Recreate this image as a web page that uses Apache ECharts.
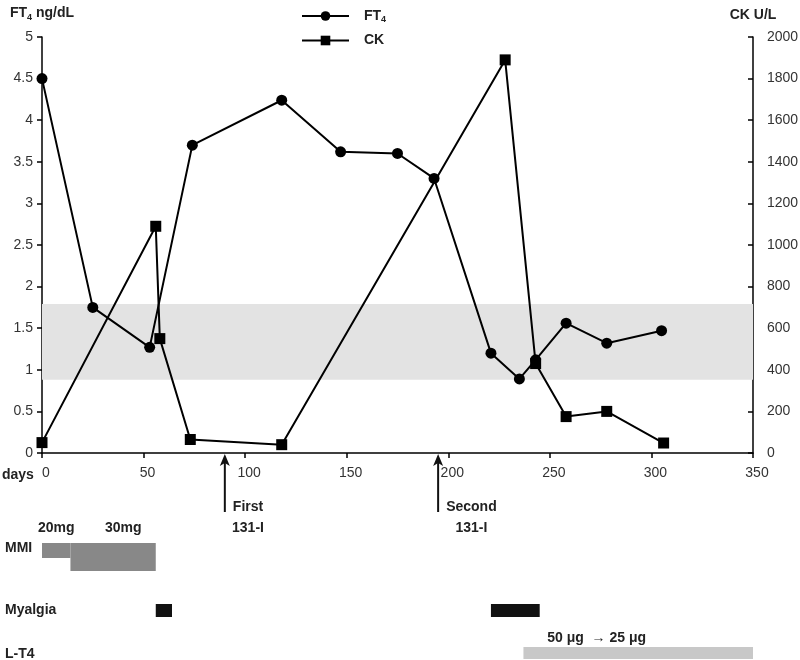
<!DOCTYPE html>
<html>
<head>
<meta charset="utf-8">
<script src="https://cdn.jsdelivr.net/npm/echarts@6/dist/echarts.min.js"></script>
<style>
  html, body { margin: 0; padding: 0; background: #fff; }
  #chart { width: 800px; height: 660px; }
</style>
</head>
<body>
<div id="chart"></div>
<script>
// FT4 (ng/dL) by day
const ft4Days = [0, 25, 53, 74, 118, 147, 175, 193, 221, 235, 243, 258, 278, 305];
const ft4Values = [4.5, 1.75, 1.27, 3.7, 4.24, 3.62, 3.6, 3.3, 1.2, 0.89, 1.12, 1.56, 1.32, 1.47];

// CK (U/L) by day
const ckDays = [0, 56, 58, 73, 118, 228, 243, 258, 278, 306];
const ckValues = [50, 1090, 550, 65, 40, 1890, 430, 175, 200, 48];

// FT4 reference range (grey band)
const ft4Range = [0.88, 1.79];

// treatment / symptom timeline: [start day, end day]
const mmiSegments = [[0, 14], [14, 56]];
const mmiLabels = [["20mg", 7], ["30mg", 40]];
const myalgiaSpans = [[56, 64], [221, 245]];
const lt4Spans = [[237, 350]];
const lt4Label = ["50 μg  → 25 μg", 273];
const iodineDoses = [[90, "First"], [195, "Second"]];

const xTicks = { min: 0, max: 350, interval: 50 };
const leftTicks = { min: 0, max: 5, interval: 0.5 };
const rightTicks = { min: 0, max: 2000, interval: 200 };

const FONT = "'Liberation Sans', Arial, sans-serif";
const measureCtx = document.createElement("canvas").getContext("2d");
function textWidth(text, font) {
  measureCtx.font = font;
  return measureCtx.measureText(text).width;
}

const chart = echarts.init(document.getElementById("chart"), null, { renderer: "canvas" });

const axisLine = { lineStyle: { color: "#000", width: 1.5 } };
const tickLabel = { color: "#333", fontSize: 14, fontFamily: FONT };

// timeline layout, in px below the main x axis
const ROW = {
  doseText: 75,
  mmiTop: 90,
  mmiThin: 15,
  mmiThick: 28,
  myalgiaTop: 151,
  myalgiaH: 13,
  lt4Text: 185,
  lt4Top: 194,
  lt4H: 12,
};

function rectFor(api, start, end, top, h, fill) {
  const p0 = api.coord([start, top]);
  const p1 = api.coord([end, top + h]);
  return {
    type: "rect",
    shape: { x: p0[0], y: p0[1], width: p1[0] - p0[0], height: p1[1] - p0[1] },
    style: { fill },
  };
}

const option = {
  backgroundColor: "#fff",
  animation: false,
  textStyle: { fontFamily: FONT },
  grid: [
    { left: 42, right: 47, top: 37, bottom: 207, containLabel: false, outerBoundsMode: "none" },
    { left: 42, right: 47, top: 453, bottom: 0, containLabel: false, outerBoundsMode: "none" },
  ],
  legend: {
    orient: "vertical",
    left: 296,
    top: 4,
    itemWidth: 47,
    itemHeight: 12,
    itemGap: 9,
    data: ["FT4", "CK"],
    formatter: (name) => (name === "FT4" ? "{b|FT}{s|4}" : "{b|CK}"),
    textStyle: {
      color: "#222",
      padding: [0, 0, 0, 10],
      rich: {
        b: { fontSize: 14, fontWeight: "bold", fontFamily: FONT, color: "#222" },
        s: { fontSize: 9, fontWeight: "bold", fontFamily: FONT, color: "#222", padding: [8, 0, 0, 0] },
      },
    },
  },
  xAxis: [
    {
      type: "value",
      gridIndex: 0,
      min: xTicks.min,
      max: xTicks.max,
      interval: xTicks.interval,
      axisLine: { onZero: false, ...axisLine },
      axisTick: { show: true, length: 5, lineStyle: { color: "#000", width: 1.5 } },
      axisLabel: { ...tickLabel, margin: 13, padding: [0, 0, 0, 8] },
      splitLine: { show: false },
    },
    {
      type: "value",
      gridIndex: 1,
      min: xTicks.min,
      max: xTicks.max,
      show: false,
    },
  ],
  yAxis: [
    {
      type: "value",
      gridIndex: 0,
      min: leftTicks.min,
      max: leftTicks.max,
      interval: leftTicks.interval,
      name: "{b|FT}{s|4}{b| ng/dL}",
      nameLocation: "end",
      nameGap: 15,
      nameTextStyle: {
        rich: {
          b: { fontSize: 14, fontWeight: "bold", fontFamily: FONT, color: "#222" },
          s: { fontSize: 9, fontWeight: "bold", fontFamily: FONT, color: "#222", padding: [8, 0, 0, 0] },
        },
      },
      axisLine: { show: true, ...axisLine },
      axisTick: { show: true, length: 5, lineStyle: { color: "#000", width: 1.5 } },
      axisLabel: { ...tickLabel, margin: 9 },
      splitLine: { show: false },
    },
    {
      type: "value",
      gridIndex: 0,
      position: "right",
      min: rightTicks.min,
      max: rightTicks.max,
      interval: rightTicks.interval,
      name: "CK U/L",
      nameLocation: "end",
      nameGap: 15,
      nameTextStyle: { fontSize: 14, fontWeight: "bold", fontFamily: FONT, color: "#222" },
      axisLine: { show: true, ...axisLine },
      axisTick: { show: true, inside: true, length: 5, lineStyle: { color: "#000", width: 1.5 } },
      axisLabel: { ...tickLabel, margin: 14, formatter: (v) => String(v) },
      splitLine: { show: false },
    },
    {
      type: "value",
      gridIndex: 1,
      min: 0,
      max: 207,
      inverse: true,
      show: false,
    },
  ],
  graphic: [
    { type: "text", left: 2, top: 468, style: { text: "days", font: "bold 14px " + FONT, fill: "#222" } },
    { type: "text", left: 5, top: 541, style: { text: "MMI", font: "bold 14px " + FONT, fill: "#222" } },
    { type: "text", left: 5, top: 603, style: { text: "Myalgia", font: "bold 14px " + FONT, fill: "#222" } },
    { type: "text", left: 5, top: 647, style: { text: "L-T4", font: "bold 14px " + FONT, fill: "#222" } },
  ],
  series: [
    {
      name: "FT4",
      type: "line",
      xAxisIndex: 0,
      yAxisIndex: 0,
      data: ft4Days.map((d, i) => [d, ft4Values[i]]),
      symbol: "circle",
      symbolSize: 11,
      itemStyle: { color: "#000" },
      lineStyle: { color: "#000", width: 2 },
      z: 3,
      markArea: {
        silent: true,
        itemStyle: { color: "#e3e3e3" },
        data: [[{ yAxis: ft4Range[0] }, { yAxis: ft4Range[1] }]],
        z: 1,
      },
    },
    {
      name: "CK",
      type: "line",
      xAxisIndex: 0,
      yAxisIndex: 1,
      data: ckDays.map((d, i) => [d, ckValues[i]]),
      symbol: "rect",
      symbolSize: 11,
      itemStyle: { color: "#000" },
      lineStyle: { color: "#000", width: 2 },
      z: 4,
    },
    {
      name: "MMI",
      type: "custom",
      xAxisIndex: 1,
      yAxisIndex: 2,
      silent: true,
      data: mmiSegments.map((s, i) => [s[0], s[1], i]),
      renderItem(params, api) {
        const idx = api.value(2);
        const h = idx === 0 ? ROW.mmiThin : ROW.mmiThick;
        const rect = rectFor(api, api.value(0), api.value(1), ROW.mmiTop, h, "#888888");
        const lbl = mmiLabels[idx];
        const p = api.coord([lbl[1], ROW.doseText]);
        return {
          type: "group",
          children: [
            rect,
            {
              type: "text",
              x: p[0],
              y: p[1],
              style: { text: lbl[0], font: "bold 14px " + FONT, fill: "#222", align: "center", verticalAlign: "middle" },
            },
          ],
        };
      },
    },
    {
      name: "Myalgia",
      type: "custom",
      xAxisIndex: 1,
      yAxisIndex: 2,
      silent: true,
      data: myalgiaSpans,
      renderItem(params, api) {
        return rectFor(api, api.value(0), api.value(1), ROW.myalgiaTop, ROW.myalgiaH, "#111");
      },
    },
    {
      name: "L-T4",
      type: "custom",
      xAxisIndex: 1,
      yAxisIndex: 2,
      silent: true,
      data: lt4Spans,
      renderItem(params, api) {
        const rect = rectFor(api, api.value(0), api.value(1), ROW.lt4Top, ROW.lt4H, "#c8c8c8");
        const p = api.coord([lt4Label[1], ROW.lt4Text]);
        return {
          type: "group",
          children: [
            rect,
            {
              type: "text",
              x: p[0],
              y: p[1],
              style: { text: lt4Label[0], font: "bold 14px " + FONT, fill: "#222", align: "center", verticalAlign: "middle" },
            },
          ],
        };
      },
    },
    {
      name: "131-I",
      type: "custom",
      xAxisIndex: 1,
      yAxisIndex: 2,
      silent: true,
      data: iodineDoses.map((d) => [d[0], d[1]]),
      dimensions: ["day", { name: "label", type: "ordinal" }],
      renderItem(params, api) {
        const item = iodineDoses[params.dataIndex];
        const base = api.coord([item[0], 59]);
        const tip = api.coord([item[0], 1]);
        const x = base[0];
        const font = "bold 14px " + FONT;
        const cx = x + 8 + textWidth(item[1], font) / 2;
        return {
          type: "group",
          children: [
            { type: "line", shape: { x1: x, y1: base[1], x2: x, y2: tip[1] + 8 }, style: { stroke: "#111", lineWidth: 2 } },
            {
              type: "polygon",
              shape: { points: [[x, tip[1]], [x - 5, tip[1] + 12], [x, tip[1] + 9], [x + 5, tip[1] + 12]] },
              style: { fill: "#111" },
            },
            { type: "text", x: cx, y: base[1] - 5, style: { text: item[1], font, fill: "#222", align: "center", verticalAlign: "middle" } },
            { type: "text", x: cx, y: base[1] + 16, style: { text: "131-I", font, fill: "#222", align: "center", verticalAlign: "middle" } },
          ],
        };
      },
    },
  ],
};

chart.setOption(option);
</script>
</body>
</html>
